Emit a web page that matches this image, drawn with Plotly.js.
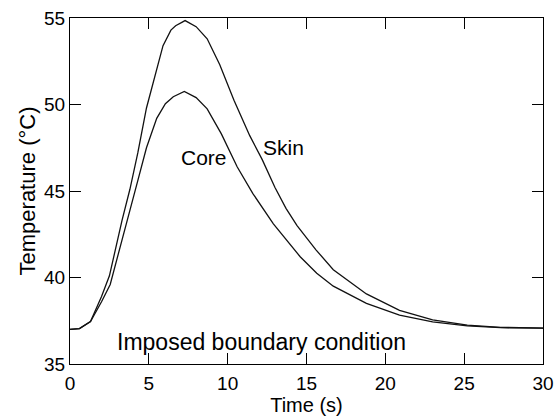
<!DOCTYPE html>
<html>
<head>
<meta charset="utf-8">
<script src="https://cdn.plot.ly/plotly-3.0.1.min.js"></script>
<style>html,body{margin:0;padding:0;background:#fff;}#chart{width:554px;height:419px;}</style>
</head>
<body>
<div id="chart"></div>
<script>
// Skin temperature (outer curve)
const skinTime = [0, 0.6, 1.3, 2.0, 2.5, 3.3, 3.8, 4.3, 4.85, 5.3, 5.9, 6.4, 6.7, 7.3, 8.0, 8.7, 9.5, 10.4, 11.4, 12.2, 13.0, 13.7, 14.4, 15.6, 16.7, 18.8, 20.9, 23.0, 25.2, 27.3, 30];
const skinTemp = [37.0, 37.05, 37.45, 38.9, 40.1, 43.3, 45.1, 47.2, 49.8, 51.4, 53.4, 54.3, 54.55, 54.85, 54.5, 53.8, 52.3, 50.25, 48.2, 46.8, 45.2, 44.0, 43.0, 41.6, 40.45, 39.05, 38.1, 37.55, 37.25, 37.12, 37.07];
// Core temperature (inner curve)
const coreTime = [0, 0.6, 1.3, 2.0, 2.55, 3.6, 4.3, 4.85, 5.5, 6.05, 6.55, 7.25, 8.0, 8.7, 9.6, 10.6, 11.6, 12.9, 14.6, 15.65, 16.7, 18.8, 20.9, 23.0, 25.2, 27.3, 30];
const coreTemp = [37.0, 37.05, 37.45, 38.6, 39.6, 43.3, 45.6, 47.5, 49.2, 50.05, 50.45, 50.75, 50.4, 49.75, 48.3, 46.4, 44.85, 43.1, 41.2, 40.25, 39.5, 38.5, 37.83, 37.44, 37.2, 37.1, 37.07];

const xTicks = [0, 5, 10, 15, 20, 25, 30];
const yTicks = [35, 40, 45, 50, 55];

const labelText = ['Core', 'Skin', 'Imposed boundary condition'];
const labelX = [8.5, 13.57, 12.17];
const labelY = [46.96, 47.54, 36.27];
const labelSize = [21, 21, 23];

const FONT = 'Liberation Sans, Arial, Helvetica, sans-serif';

const traces = [
  {x: skinTime, y: skinTemp, mode: 'lines', line: {color: '#111', width: 1.3}, name: 'Skin', hoverinfo: 'skip'},
  {x: coreTime, y: coreTemp, mode: 'lines', line: {color: '#111', width: 1.3}, name: 'Core', hoverinfo: 'skip'}
];

const annotations = labelText.map((t, i) => ({
  x: labelX[i], y: labelY[i], xref: 'x', yref: 'y', text: t, showarrow: false,
  font: {family: FONT, size: labelSize[i], color: '#000'}, xanchor: 'center', yanchor: 'middle'
}));

const layout = {
  width: 554, height: 419,
  margin: {l: 70, r: 11, t: 18, b: 55},
  paper_bgcolor: '#fff', plot_bgcolor: '#fff',
  showlegend: false,
  font: {family: FONT, color: '#000'},
  xaxis: {
    range: [0, 30], tickvals: xTicks, ticktext: xTicks.map(String),
    ticks: 'inside', ticklen: 11, tickwidth: 1, tickcolor: '#000',
    showline: true, linecolor: '#000', linewidth: 1, mirror: 'ticks',
    showgrid: false, zeroline: false, ticklabelstandoff: 2,
    tickfont: {family: FONT, size: 19, color: '#000'},
    title: {text: 'Time (s)', font: {family: FONT, size: 20, color: '#000'}, standoff: 0}
  },
  yaxis: {
    range: [35, 55], tickvals: yTicks, ticktext: yTicks.map(String),
    ticks: 'inside', ticklen: 11, tickwidth: 1, tickcolor: '#000',
    showline: true, linecolor: '#000', linewidth: 1, mirror: 'ticks',
    showgrid: false, zeroline: false,
    tickfont: {family: FONT, size: 19, color: '#000'},
    title: {text: 'Temperature (°C)', font: {family: FONT, size: 22, color: '#000'}, standoff: 2}
  },
  annotations: annotations
};

Plotly.newPlot('chart', traces, layout, {staticPlot: true, displayModeBar: false});
</script>
</body>
</html>
